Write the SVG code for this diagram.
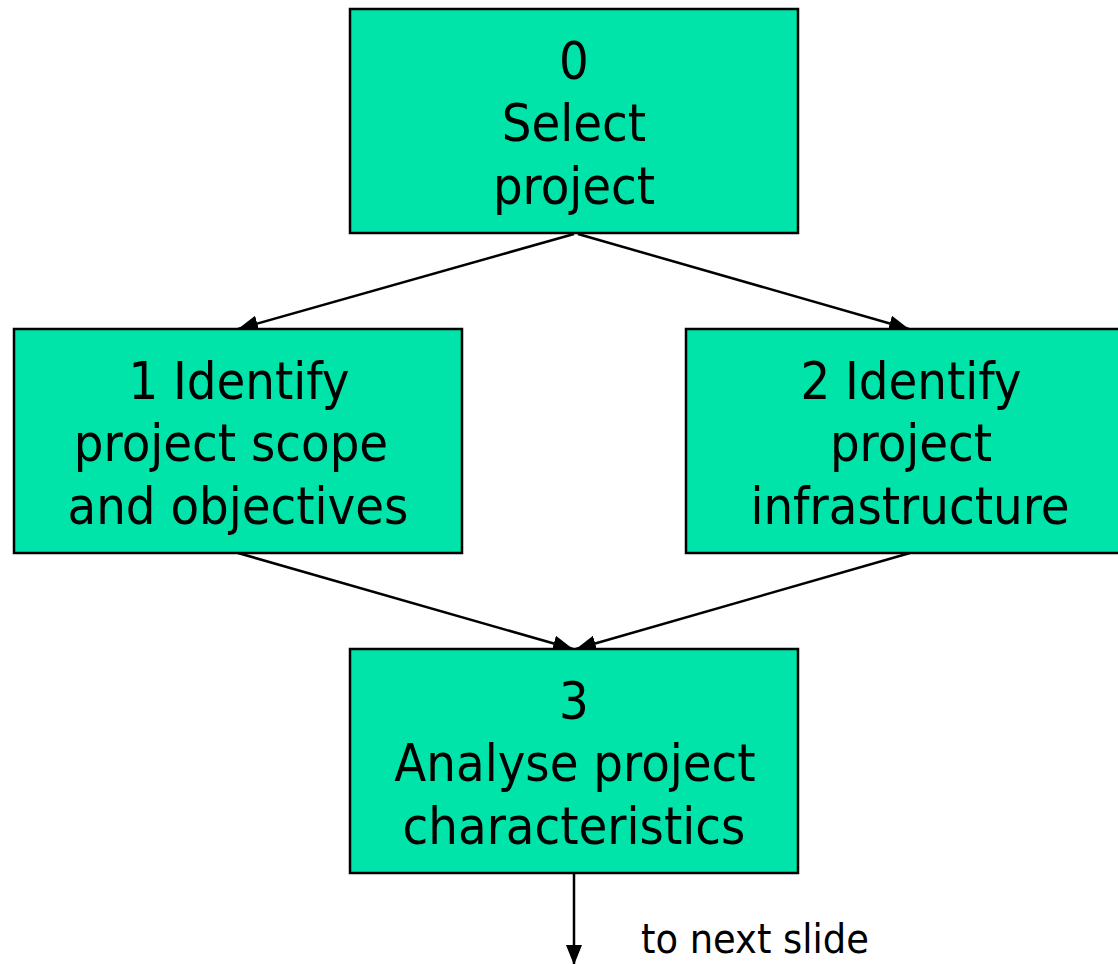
<svg xmlns="http://www.w3.org/2000/svg" width="1118" height="964" viewBox="0 0 1118 964">
<style>
.box{fill:#00E4AA;stroke:#000;stroke-width:2.5}
.t{font-family:"DejaVu Sans Condensed","DejaVu Sans",sans-serif;font-stretch:condensed;font-size:52px;fill:#000;text-anchor:middle}
.lbl{font-family:"DejaVu Sans Condensed","DejaVu Sans",sans-serif;font-stretch:condensed;font-size:41px;fill:#000}
.c{stroke:#000;stroke-width:2.5;fill:none;marker-end:url(#ah)}
</style>
<defs>
<marker id="ah" markerUnits="userSpaceOnUse" markerWidth="22" markerHeight="18" refX="20" refY="8" orient="auto">
<path d="M0,0 L20,8 L0,16 Z" fill="#000"/>
</marker>
</defs>
<rect width="1118" height="964" fill="#fff"/>
<g id="connectors">
<line class="c" x1="574" y1="234" x2="238" y2="329"/>
<line class="c" x1="578" y1="234" x2="909" y2="329"/>
<line class="c" x1="238" y1="553" x2="573" y2="649"/>
<line class="c" x1="910" y1="553" x2="576" y2="649"/>
<line class="c" x1="574" y1="873" x2="574" y2="965"/>
</g>
<g id="node0">
<rect class="box" x="350" y="9" width="448" height="224"/>
<text class="t" x="574" y="79">0</text>
<text class="t" x="574" y="141">Select</text>
<text class="t" x="574" y="204">project</text>
</g>
<g id="node1">
<rect class="box" x="14" y="329" width="448" height="224"/>
<text class="t" x="239" y="399">1 Identify</text>
<text class="t" x="231" y="461">project scope</text>
<text class="t" x="238" y="524">and objectives</text>
</g>
<g id="node2">
<rect class="box" x="686" y="329" width="448" height="224"/>
<text class="t" x="911" y="399">2 Identify</text>
<text class="t" x="911" y="461">project</text>
<text class="t" x="910" y="524">infrastructure</text>
</g>
<g id="node3">
<rect class="box" x="350" y="649" width="448" height="224"/>
<text class="t" x="574" y="719">3</text>
<text class="t" x="575" y="781">Analyse project</text>
<text class="t" x="574" y="844">characteristics</text>
</g>
<g id="label">
<text class="lbl" x="641" y="953">to next slide</text>
</g>
</svg>
